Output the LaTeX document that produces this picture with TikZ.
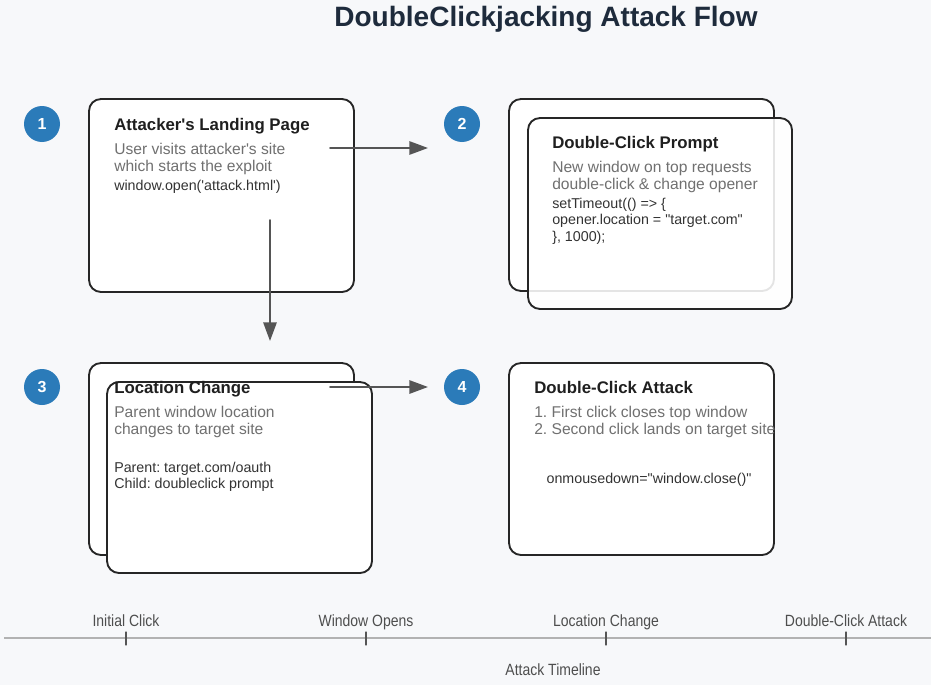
\documentclass[tikz,border=0pt]{standalone}
\usepackage{fontspec}
\setmainfont{Liberation Sans}[Ligatures=TeXOff]
\newfontfamily\narrowfont[FakeStretch=0.86, Ligatures=TeXOff]{Liberation Sans}
\usetikzlibrary{arrows.meta}
\frenchspacing
\definecolor{bgcol}{HTML}{F7F8FA}
\definecolor{stepblue}{HTML}{2B7BB9}
\definecolor{titlecol}{HTML}{1E2B3C}
\definecolor{desccol}{HTML}{707070}
\definecolor{codecol}{HTML}{333333}
\definecolor{arrowcol}{HTML}{555555}
% lines stacked from the baseline of the first one
\newcommand{\rows}[1]{\begin{tabular}[t]{@{}l@{}}#1\end{tabular}}
\tikzset{
  win/.style={draw=black!85, line width=1.4pt, rounded corners=9pt, fill=white},
  stepnum/.style={circle, fill=stepblue, text=white, minimum size=27pt, inner sep=0pt, font=\fontsize{12}{13}\selectfont\bfseries},
  boxtitle/.style={anchor=base west, inner sep=0pt, text=black!88, font=\fontsize{12.6}{14}\selectfont\bfseries},
  desc/.style={anchor=base west, inner sep=0pt, text=desccol, font=\fontsize{11.7}{12.75}\selectfont},
  code/.style={anchor=base west, inner sep=0pt, text=codecol, font=\fontsize{10.7}{12.5}\selectfont},
  flow/.style={-{Triangle[length=14pt,width=10pt]}, draw=arrowcol, fill=arrowcol, line width=1.4pt},
  tlmark/.style={draw=arrowcol, line width=0.8pt},
  tllabel/.style={anchor=base, inner sep=0pt, text=desccol!70!black, font=\narrowfont\fontsize{12.2}{13}\selectfont},
}
\begin{document}
\begin{tikzpicture}[x=0.75pt, y=-0.75pt, line join=round, line cap=round]
  % page
  \fill[bgcol] (0,0) rectangle (931,685);
  \useasboundingbox (0,0) rectangle (931,685);
  \node[anchor=base, text=titlecol, font=\fontsize{21}{24}\selectfont\bfseries] (title) at (546,27) {DoubleClickjacking Attack Flow};

  % windows
  \draw[win] (89,99) rectangle (354,292);
  \draw[win] (509,99) rectangle (774,291);
  \draw[win, fill opacity=0.88] (528,118) rectangle (792,309);
  \draw[win] (89,363) rectangle (354,555);
  \draw[win] (107,382) rectangle (372,573);
  \draw[win] (509,363) rectangle (774,555);

  % step numbers
  \node[stepnum] (s1) at (42,124) {1};
  \node[stepnum] (s2) at (462,124) {2};
  \node[stepnum] (s3) at (42,387) {3};
  \node[stepnum] (s4) at (462,387) {4};

  % step 1
  \node[boxtitle] (t1) at (114,130) {Attacker's Landing Page};
  \node[desc] (d1) at (114,154) {\rows{User visits attacker's site\\which starts the exploit}};
  \node[code] (k1) at (114,190) {window.open('attack.html')};

  % step 2
  \node[boxtitle] (t2) at (552,148) {Double-Click Prompt};
  \node[desc] (d2) at (552,172) {\rows{New window on top requests\\double-click \& change opener}};
  \node[code] (k2) at (552,208) {\rows{setTimeout(() => \{\\opener.location = "target.com"\\\}, 1000);}};

  % step 3
  \node[boxtitle] (t3) at (114,393) {Location Change};
  \node[desc] (d3) at (114,417) {\rows{Parent window location\\changes to target site}};
  \node[code] (k3) at (114,472) {\rows{Parent: target.com/oauth\\Child: doubleclick prompt}};

  % step 4
  \node[boxtitle] (t4) at (534,393) {Double-Click Attack};
  \node[desc] (d4) at (534,417) {\rows{1. First click closes top window\\2. Second click lands on target site}};
  \node[code, anchor=base] (k4) at (649,483) {onmousedown="window.close()"};

  % flow arrows
  \coordinate (a1) at (330,148);
  \coordinate (a2) at (428,148);
  \coordinate (a3) at (270,220);
  \coordinate (a4) at (270,341);
  \coordinate (a5) at (330,387);
  \coordinate (a6) at (428,387);
  \draw[flow] (a1)--(a2);
  \draw[flow] (a3)--(a4);
  \draw[flow] (a5)--(a6);

  % timeline
  \coordinate (tl0) at (4,638);
  \coordinate (tl1) at (931,638);
  \draw[draw=black!30, line width=1.4pt, line cap=butt] (tl0)--(tl1);
  \foreach \x/\lbl [count=\i] in {126/Initial Click, 366/Window Opens, 606/Location Change, 846/Double-Click Attack} {
    \draw[tlmark] (\x,632)--(\x,645);
    \node[tllabel] (m\i) at (\x,626) {\lbl};
  }
  \node[tllabel] (tlcap) at (553,675) {Attack Timeline};
\end{tikzpicture}
\end{document}
